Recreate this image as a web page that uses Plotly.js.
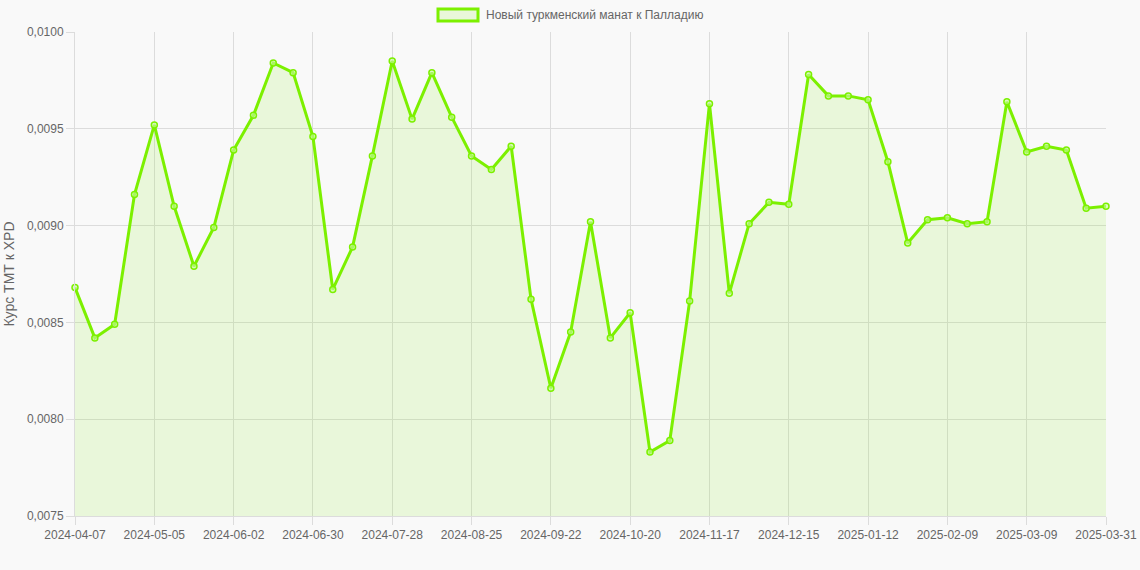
<!DOCTYPE html>
<html>
<head>
<meta charset="utf-8">
<script src="https://cdn.plot.ly/plotly-3.0.1.min.js"></script>
<style>
html,body{margin:0;padding:0;background:#f9f9f9;}
#chart{width:1140px;height:570px;}
</style>
</head>
<body>
<div id="chart"></div>
<script>
const dates = [
  "2024-04-07","2024-04-14","2024-04-21","2024-04-28","2024-05-05","2024-05-12","2024-05-19","2024-05-26",
  "2024-06-02","2024-06-09","2024-06-16","2024-06-23","2024-06-30","2024-07-07","2024-07-14","2024-07-21",
  "2024-07-28","2024-08-04","2024-08-11","2024-08-18","2024-08-25","2024-09-01","2024-09-08","2024-09-15",
  "2024-09-22","2024-09-29","2024-10-06","2024-10-13","2024-10-20","2024-10-27","2024-11-03","2024-11-10",
  "2024-11-17","2024-11-24","2024-12-01","2024-12-08","2024-12-15","2024-12-22","2024-12-29","2025-01-05",
  "2025-01-12","2025-01-19","2025-01-26","2025-02-02","2025-02-09","2025-02-16","2025-02-23","2025-03-02",
  "2025-03-09","2025-03-16","2025-03-23","2025-03-30","2025-03-31"
];
const rates = [
  0.00868,0.00842,0.00849,0.00916,0.00952,0.00910,0.00879,0.00899,
  0.00939,0.00957,0.00984,0.00979,0.00946,0.00867,0.00889,0.00936,
  0.00985,0.00955,0.00979,0.00956,0.00936,0.00929,0.00941,0.00862,
  0.00816,0.00845,0.00902,0.00842,0.00855,0.00783,0.00789,0.00861,
  0.00963,0.00865,0.00901,0.00912,0.00911,0.00978,0.00967,0.00967,
  0.00965,0.00933,0.00891,0.00903,0.00904,0.00901,0.00902,0.00964,
  0.00938,0.00941,0.00939,0.00909,0.00910
];
const seriesName = "Новый туркменский манат к Палладию";
const yTitle = "Курс ТМТ к XPD";
const tickDates = dates.filter((d,i)=> i % 4 === 0);

const trace = {
  x: dates, y: rates, type: 'scatter', mode: 'lines+markers',
  name: seriesName,
  line: {color: '#7cf000', width: 3},
  marker: {size: 6, color: 'rgba(200,250,160,0.6)', line: {color: '#7cf000', width: 1.5}, symbol: 'circle'},
  fill: 'tozeroy', fillcolor: 'rgba(124,240,0,0.12)',
  cliponaxis: false, showlegend: false
};

const layout = {
  width: 1140, height: 570,
  paper_bgcolor: '#f9f9f9', plot_bgcolor: '#f9f9f9',
  margin: {l: 75, r: 34, t: 32, b: 54},
  separators: ', ',
  font: {family: 'Liberation Sans, Arial, sans-serif', size: 12, color: '#666'},
  showlegend: false,
  xaxis: {
    type: 'category', range: [0, dates.length - 1],
    tickmode: 'array', tickvals: tickDates, ticktext: tickDates,
    showgrid: true, gridcolor: '#dcdcdc', gridwidth: 1,
    ticks: 'outside', ticklen: 8, tickcolor: '#dcdcdc',
    showline: true, linecolor: '#dcdcdc', zeroline: false,
    tickfont: {size: 12, color: '#666'}, tickangle: 0
  },
  yaxis: {
    range: [0.0075, 0.0100], tickmode: 'array',
    tickvals: [0.0075, 0.0080, 0.0085, 0.0090, 0.0095, 0.0100],
    tickformat: '.4f',
    showgrid: true, gridcolor: '#dcdcdc', gridwidth: 1,
    ticks: 'outside', ticklen: 8, tickcolor: '#dcdcdc',
    showline: true, linecolor: '#dcdcdc', zeroline: false,
    tickfont: {size: 12, color: '#666'},
    title: {text: yTitle, font: {size: 14, color: '#666'}, standoff: 8}
  },
  shapes: [{
    type: 'rect', xref: 'paper', yref: 'paper',
    x0: (438 - 75) / 1031, x1: (478 - 75) / 1031,
    y0: 1 + (32 - 21) / 484, y1: 1 + (32 - 9) / 484,
    line: {color: '#7cf000', width: 3}, fillcolor: 'rgba(124,240,0,0.12)'
  }],
  annotations: [{
    xref: 'paper', yref: 'paper',
    x: (484 - 75) / 1031, y: 1 + (32 - 15) / 484,
    xanchor: 'left', yanchor: 'middle', showarrow: false,
    text: seriesName, font: {size: 12, color: '#666'}
  }]
};

Plotly.newPlot('chart', [trace], layout, {displayModeBar: false, staticPlot: true});
</script>
</body>
</html>
